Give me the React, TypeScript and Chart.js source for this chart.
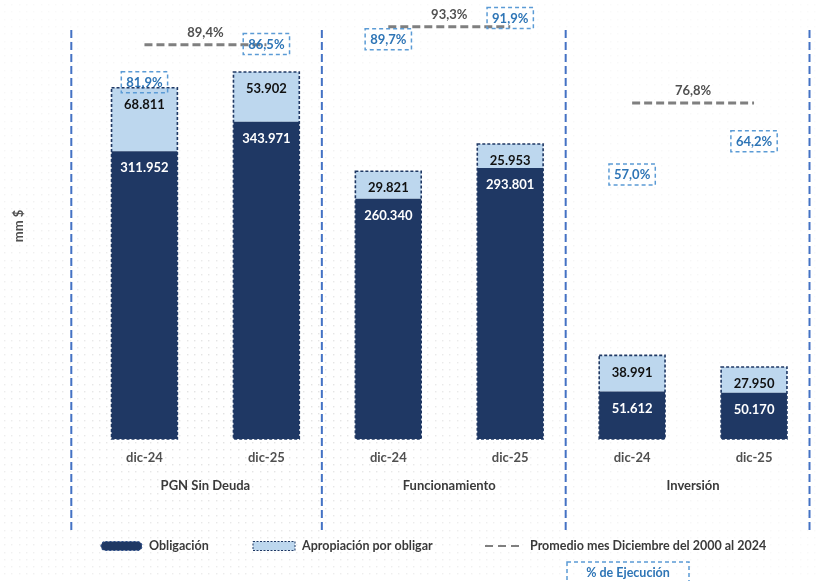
import React, { useEffect, useRef } from 'react';
import { Chart, registerables } from 'chart.js';

Chart.register(...registerables);

// ---------- data ----------
const categories = ['dic-24', 'dic-25', 'dic-24', 'dic-25', 'dic-24', 'dic-25'];
const groups = ['PGN Sin Deuda', 'Funcionamiento', 'Inversión'];
const obligacion = [311952, 343971, 260340, 293801, 51612, 50170];
const apropiacionPorObligar = [68811, 53902, 29821, 25953, 38991, 27950];
const ejecucion = [81.9, 86.5, 89.7, 91.9, 57.0, 64.2];
const promedioDiciembre = [89.4, 93.3, 76.8];
const seriesNames = ['Obligación', 'Apropiación por obligar', 'Promedio mes Diciembre del 2000 al 2024'];
const ejecucionTitle = '% de Ejecución';
const yTitle = 'mm $';

// ---------- style ----------
const NAVY = '#1F3864';
const LIGHT = '#BDD7EE';
const GRAY_LINE = '#7F7F7F';
const BLUE_TXT = '#2E75B6';
const BLUE_BOX = '#5B9BD5';
const SEP = '#4472C4';
const FONT = 'Lato, "Liberation Sans", sans-serif';

const fmtNum = (v: number) => String(Math.round(v)).replace(/\B(?=(\d{3})+(?!\d))/g, '.');
const fmtPct = (v: number) => v.toFixed(1).replace('.', ',') + '%';

const overlay = {
  id: 'overlay',
  beforeDraw(chart: any) {
    const ctx = chart.ctx;
    ctx.save();
    ctx.fillStyle = '#ffffff';
    ctx.fillRect(0, 0, chart.width, chart.height);
    for (let y = 4; y < chart.height; y += 7.3) {
      for (let x = 4; x < chart.width; x += 7.3) {
        const a = 0.3 * Math.exp(-(((x - 250) / 330) ** 2 + ((y - 400) / 240) ** 2)) + 0.06;
        ctx.fillStyle = `rgba(175,175,175,${a.toFixed(3)})`;
        ctx.fillRect(Math.round(x), Math.round(y), 1.4, 1.4);
      }
    }
    ctx.restore();
  },
  beforeDatasetsDraw(chart: any) {
    const ctx = chart.ctx;
    const xs = chart.scales.x;
    const step = xs.getPixelForValue(1) - xs.getPixelForValue(0);
    const seps = [xs.getPixelForValue(0) - step * 0.6];
    for (let g = 0; g < groups.length; g++) seps.push(xs.getPixelForValue(g * 2 + 1) + step * 0.455);
    ctx.save();
    ctx.strokeStyle = SEP;
    ctx.lineWidth = 2;
    ctx.setLineDash([8, 4]);
    seps.forEach((sx) => {
      ctx.beginPath();
      ctx.moveTo(sx, 30);
      ctx.lineTo(sx, 532);
      ctx.stroke();
    });
    ctx.restore();
  },
  afterDatasetsDraw(chart: any, _args: any, opts: any) {
    const ctx = chart.ctx;
    const xs = chart.scales.x;
    const y2 = chart.scales.y2;
    const m0 = chart.getDatasetMeta(0).data;
    const m1 = chart.getDatasetMeta(1).data;
    ctx.save();

    // bar outlines (dashed)
    for (let i = 0; i < m0.length; i++) {
      const a = m0[i].getProps(['x', 'y', 'base', 'width'], true);
      const b = m1[i].getProps(['x', 'y', 'base', 'width'], true);
      const left = a.x - a.width / 2;
      const top = Math.min(b.y, b.base);
      const bottom = Math.max(a.y, a.base);
      ctx.setLineDash([3, 2]);
      ctx.lineWidth = 1.6;
      ctx.strokeStyle = NAVY;
      ctx.strokeRect(left, top, a.width, bottom - top);
    }

    // bar value labels
    ctx.font = `bold 13px ${FONT}`;
    ctx.textAlign = 'center';
    ctx.textBaseline = 'middle';
    ctx.setLineDash([]);
    [m0, m1].forEach((metaData, d) => {
      const vals = d === 0 ? obligacion : apropiacionPorObligar;
      metaData.forEach((el: any, i: number) => {
        const p = el.getProps(['x', 'y', 'base'], true);
        const top = Math.min(p.y, p.base);
        ctx.fillStyle = d === 0 ? '#ffffff' : '#111111';
        ctx.fillText(fmtNum(vals[i]), p.x, top + 17);
      });
    });

    // average line labels
    ctx.fillStyle = '#505050';
    promedioDiciembre.forEach((v, g) => {
      const x = (xs.getPixelForValue(g * 2) + xs.getPixelForValue(g * 2 + 1)) / 2;
      ctx.fillText(fmtPct(v), x, y2.getPixelForValue(v) - 12);
    });

    // % de ejecución boxes
    const pctMeta = chart.getDatasetMeta(2 + promedioDiciembre.length).data;
    pctMeta.forEach((el: any, i: number) => {
      const p = el.getProps(['x', 'y'], true);
      const cy = p.y - opts.pctLift[i];
      const txt = fmtPct(ejecucion[i]);
      const w = ctx.measureText(txt).width + 10;
      ctx.setLineDash([4, 3]);
      ctx.lineWidth = 1.5;
      ctx.strokeStyle = BLUE_BOX;
      ctx.strokeRect(p.x - w / 2, cy - 10.5, w, 21);
      ctx.setLineDash([]);
      ctx.fillStyle = BLUE_TXT;
      ctx.fillText(txt, p.x, cy + 0.5);
    });

    // category labels
    ctx.fillStyle = '#505050';
    categories.forEach((c, i) => ctx.fillText(c, xs.getPixelForValue(i), 457.5));
    // group labels
    ctx.fillStyle = '#3a3a3a';
    groups.forEach((g, k) => {
      const x = (xs.getPixelForValue(k * 2) + xs.getPixelForValue(k * 2 + 1)) / 2;
      ctx.fillText(g, x, 486);
    });

    // y title
    ctx.save();
    ctx.translate(19, 226);
    ctx.rotate(-Math.PI / 2);
    ctx.fillStyle = '#505050';
    ctx.fillText(yTitle, 0, 0);
    ctx.restore();

    // legend
    const ly = 546;
    ctx.font = `bold 12.5px ${FONT}`;
    ctx.textAlign = 'left';
    ctx.fillStyle = NAVY;
    ctx.beginPath();
    ctx.roundRect(101, ly - 4.5, 41, 9, 4.5);
    ctx.fill();
    ctx.setLineDash([2, 2]);
    ctx.lineWidth = 1.2;
    ctx.strokeStyle = '#2F4F8A';
    ctx.stroke();
    ctx.setLineDash([]);
    ctx.fillStyle = '#3a3a3a';
    ctx.fillText(seriesNames[0], 149, ly);

    ctx.fillStyle = LIGHT;
    ctx.fillRect(253, ly - 4.5, 42, 9);
    ctx.setLineDash([2, 1.5]);
    ctx.lineWidth = 1;
    ctx.strokeStyle = NAVY;
    ctx.strokeRect(253, ly - 4.5, 42, 9);
    ctx.setLineDash([]);
    ctx.fillStyle = '#3a3a3a';
    ctx.fillText(seriesNames[1], 302, ly);

    ctx.setLineDash([8, 5]);
    ctx.lineWidth = 2;
    ctx.strokeStyle = GRAY_LINE;
    ctx.beginPath();
    ctx.moveTo(485, ly);
    ctx.lineTo(521, ly);
    ctx.stroke();
    ctx.setLineDash([]);
    ctx.fillStyle = '#3a3a3a';
    ctx.fillText(seriesNames[2], 530, ly);

    // % de Ejecución legend box
    ctx.setLineDash([4, 3]);
    ctx.lineWidth = 1.5;
    ctx.strokeStyle = BLUE_BOX;
    ctx.strokeRect(567, 562, 122, 34);
    ctx.setLineDash([]);
    ctx.textAlign = 'center';
    ctx.fillStyle = BLUE_TXT;
    ctx.fillText(ejecucionTitle, 628, 573);

    ctx.restore();
  },
};

export default function App() {
  const ref = useRef<HTMLCanvasElement>(null);
  useEffect(() => {
    const avgDatasets = promedioDiciembre.map((v, g) => ({
      type: 'line' as const,
      label: seriesNames[2],
      data: categories.map((_, i) => (Math.floor(i / 2) === g ? v : null)),
      yAxisID: 'y2',
      borderColor: GRAY_LINE,
      borderWidth: 3,
      borderDash: [8, 4],
      pointRadius: 0,
      fill: false,
      spanGaps: false,
      order: 0,
    }));
    const chart = new Chart(ref.current!, {
      type: 'bar',
      data: {
        labels: categories,
        datasets: [
          {
            type: 'bar',
            label: seriesNames[0],
            data: obligacion,
            backgroundColor: NAVY,
            stack: 's',
            yAxisID: 'y',
            barPercentage: 0.54,
            categoryPercentage: 1,
            order: 1,
          },
          {
            type: 'bar',
            label: seriesNames[1],
            data: apropiacionPorObligar,
            backgroundColor: LIGHT,
            stack: 's',
            yAxisID: 'y',
            barPercentage: 0.54,
            categoryPercentage: 1,
            order: 1,
          },
          ...avgDatasets,
          {
            type: 'line',
            label: ejecucionTitle,
            data: ejecucion,
            yAxisID: 'y2',
            showLine: false,
            pointRadius: 0,
            order: 0,
          },
        ] as any,
      },
      options: {
        animation: false,
        responsive: false,
        layout: { padding: { left: 83.5, right: 7, top: 10, bottom: 142 } },
        plugins: {
          legend: { display: false },
          tooltip: { enabled: false },
          overlay: { pctLift: [-3, 14, 4, 15, 20, 20] },
        } as any,
        scales: {
          x: { display: false, stacked: true, offset: true },
          y: { display: false, stacked: true, min: 0, max: 465000 },
          y2: { display: false, min: 4.1, max: 96.9 },
        },
      },
      plugins: [overlay],
    });
    return () => chart.destroy();
  }, []);
  return (
    <div style={{ position: 'absolute', left: 0, top: 0, width: 822, height: 581 }}>
      <canvas ref={ref} width={822} height={581} style={{ display: 'block' }} />
    </div>
  );
}
